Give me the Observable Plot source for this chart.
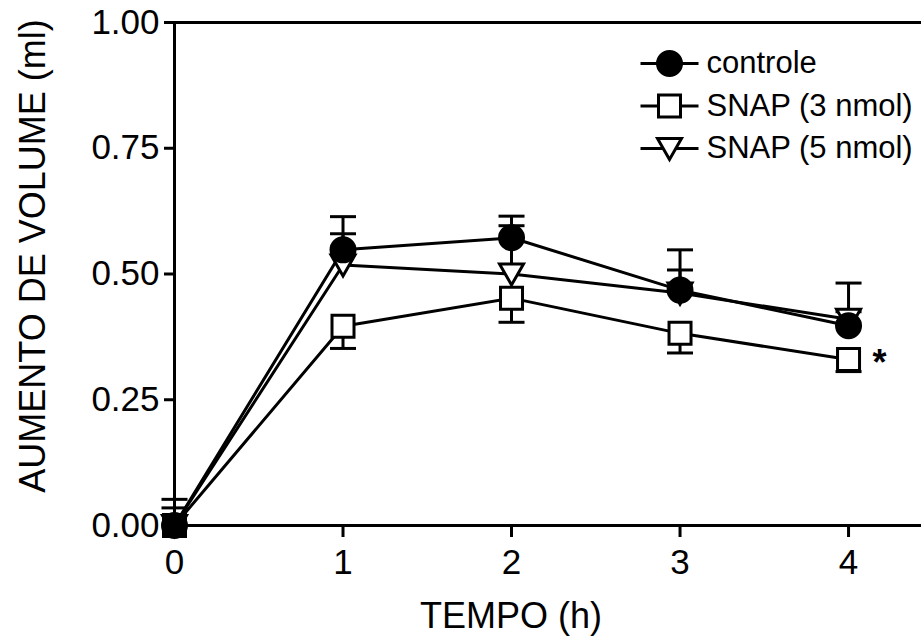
<!DOCTYPE html>
<html>
<head>
<meta charset="utf-8">
<script src="https://cdn.jsdelivr.net/npm/d3@7"></script>
<script src="https://cdn.jsdelivr.net/npm/@observablehq/plot@0.6"></script>
<style>
  html, body { margin: 0; padding: 0; background: #fff; }
  #chart { width: 921px; height: 641px; }
</style>
</head>
<body>
<div id="chart"></div>
<script>
// ---- data ----
const time = [0, 1, 2, 3, 4];
const xTicks = [0, 1, 2, 3, 4];
const yTicks = [0, 0.25, 0.5, 0.75, 1.0];

const controleMean = [0.0, 0.548, 0.572, 0.468, 0.397];
const controleSem  = [0.052, 0.066, 0.043, 0.080, 0.085];   // drawn upward

const snap3Mean = [0.0, 0.396, 0.452, 0.382, 0.330];
const snap3Sem  = [0.0, 0.044, 0.048, 0.039, 0.024];        // drawn downward

const snap5Mean = [0.0, 0.518, 0.500, 0.462, 0.410];
const snap5Sem  = [0.035, 0.062, 0.096, 0.046, 0.015];      // drawn upward

const seriesNames = ["controle", "SNAP (3 nmol)", "SNAP (5 nmol)"];
const significantTimes = [4];          // "*" next to SNAP (3 nmol) at 4 h
const significantLabel = "*";

const xLabel = "TEMPO (h)";
const yLabel = "AUMENTO DE VOLUME (ml)";

// ---- symbols ----
const squareSym = {draw(ctx) { ctx.rect(-11, -11, 22, 22); }};
const triDownSym = {draw(ctx) { ctx.moveTo(-12, -10); ctx.lineTo(12, -10); ctx.lineTo(0, 11); ctx.closePath(); }};
const circleSym = {draw(ctx) { ctx.moveTo(12, 0); ctx.arc(0, 0, 12, 0, 2 * Math.PI); ctx.closePath(); }};
const capSym = {draw(ctx) { ctx.moveTo(-13, 0); ctx.lineTo(13, 0); }};
const legendLineSym = {draw(ctx) { ctx.moveTo(-29, 0); ctx.lineTo(29, 0); }};

const series = [
  {name: seriesNames[0], mean: controleMean, sem: controleSem, dir: 1, symbol: circleSym, fill: "black"},
  {name: seriesNames[1], mean: snap3Mean, sem: snap3Sem, dir: -1, symbol: squareSym, fill: "white"},
  {name: seriesNames[2], mean: snap5Mean, sem: snap5Sem, dir: 1, symbol: triDownSym, fill: "white"}
];

const rows = series.flatMap(s => time.map((t, i) => ({
  series: s.name, t, v: s.mean[i], e: s.mean[i] + s.dir * s.sem[i], sem: s.sem[i]
})));
const errRows = rows.filter(d => d.sem > 0);

const sigRows = rows.filter(d => d.series === seriesNames[1] && significantTimes.includes(d.t));

const font = "'Liberation Sans', Arial, Helvetica, sans-serif";

// draw order for markers: square, triangle, circle (circle on top)
const markerOrder = [series[1], series[2], series[0]];

const marks = [
  // frame lines
  Plot.ruleY([0, 1], {stroke: "black", strokeWidth: 3}),
  Plot.ruleX([0], {y1: 0, y2: 1, stroke: "black", strokeWidth: 3}),
  Plot.axisX({ticks: xTicks, tickSize: 12, tickPadding: 12, strokeWidth: 3, tickFormat: d => String(d), label: null, fontSize: 35}),
  Plot.axisY({ticks: yTicks, tickSize: 10, tickPadding: 5, strokeWidth: 3, tickFormat: d3.format(".2f"), label: null, fontSize: 35}),
  // lines
  Plot.line(rows, {x: "t", y: "v", z: "series", stroke: "black", strokeWidth: 3}),
  // error bars
  Plot.ruleX(errRows, {x: "t", y1: "v", y2: "e", stroke: "black", strokeWidth: 3}),
  Plot.dot(errRows, {x: "t", y: "e", symbol: capSym, stroke: "black", strokeWidth: 3, fill: "none", r: 5}),
  // markers
  ...markerOrder.map(s => Plot.dot(rows.filter(d => d.series === s.name), {
    x: "t", y: "v", symbol: s.symbol, fill: s.fill, stroke: "black", strokeWidth: 3, r: 12
  })),
  // significance
  Plot.text(sigRows, {x: "t", y: "v", text: () => significantLabel, dx: 31, dy: 4, fontSize: 36, fontWeight: "bold", fill: "black"}),
  // axis titles
  Plot.text([xLabel], {frameAnchor: "bottom", text: d => d, textAnchor: "middle", lineAnchor: "middle", dx: -37, dy: 91, fontSize: 36, fill: "black"}),
  Plot.text([yLabel], {frameAnchor: "left", text: d => d, textAnchor: "middle", lineAnchor: "middle", rotate: -90, dx: -141, dy: -18, fontSize: 36, fill: "black"}),
  // legend
  ...series.flatMap((s, i) => {
    const dy = 41 + i * 42.5;
    return [
      Plot.dot([s], {frameAnchor: "top-left", dx: 495, dy, symbol: legendLineSym, stroke: "black", strokeWidth: 3, fill: "none", r: 5}),
      Plot.dot([s], {frameAnchor: "top-left", dx: 495, dy, symbol: s.symbol, stroke: "black", strokeWidth: 3, fill: s.fill, r: 12}),
      Plot.text([s], {frameAnchor: "top-left", dx: 532, dy, text: d => d.name, textAnchor: "start", lineAnchor: "middle", fontSize: 31, fill: "black"})
    ];
  })
];

const chart = Plot.plot({
  width: 921,
  height: 641,
  marginLeft: 174,
  marginRight: 0,
  marginTop: 22,
  marginBottom: 116,
  x: {domain: [0, 4.433]},
  y: {domain: [0, 1]},
  style: {fontFamily: font, fontSize: "35px", color: "black", background: "white", overflow: "visible"},
  marks
});
document.getElementById("chart").appendChild(chart);
</script>
</body>
</html>
